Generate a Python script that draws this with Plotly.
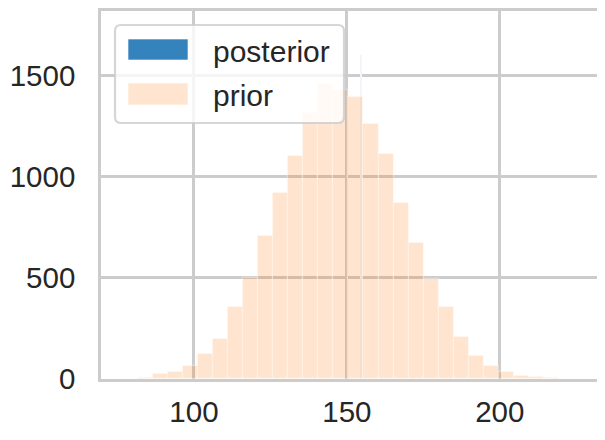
import plotly.graph_objects as go

# ---- data ----
prior_bin_start = 76.8      # left edge of first bin
prior_bin_width = 4.915     # width of each bin
prior_counts = [1, 4, 23, 36, 66, 122, 198, 357, 501, 708, 921, 1104, 1318, 1462,
                1432, 1394, 1262, 1112, 873, 671, 493, 354, 206, 115, 66, 36, 15, 8, 3, 1]

posterior_x = [154.7]
posterior_counts = [1602]
posterior_width = 0.55

x_ticks = [100, 150, 200]
y_ticks = [0, 500, 1000, 1500]
x_range = [69.6, 231.8]
y_range = [0, 1821]

prior_centers = [prior_bin_start + prior_bin_width * (i + 0.5) for i in range(len(prior_counts))]

# ---- geometry (page pixels; the page body has an 8px margin) ----
OFF = 8
W, H = 605 - OFF, 440 - OFF
L, R, T, B = 101, 597, 11, 379          # plot area in page pixels
PW, PH = R - L, B - T

def px(x):
    return (x - L) / PW

def py(y):
    return (B - y) / PH

TEXT = "#262626"
GRID = "#cccccc"
FONT = "Liberation Sans, Arial, sans-serif"

fig = go.Figure()

fig.add_trace(go.Bar(
    x=posterior_x, y=posterior_counts, width=posterior_width,
    marker=dict(color="rgb(242,246,251)", line=dict(width=0)),
    name="posterior", showlegend=False,
))
fig.add_trace(go.Bar(
    x=prior_centers, y=prior_counts, width=prior_bin_width,
    marker=dict(color="rgba(255,127,14,0.2)", line=dict(color="rgba(255,255,255,0.35)", width=1.2)),
    name="prior", showlegend=False,
))

# ---- manual legend (matplotlib style) ----
def rounded_rect(x0, y0, x1, y1, r):
    pts = []
    pts.append(f"M{px(x0 + r)},{py(y0)}")
    pts.append(f"L{px(x1 - r)},{py(y0)}")
    pts.append(f"Q{px(x1)},{py(y0)} {px(x1)},{py(y0 + r)}")
    pts.append(f"L{px(x1)},{py(y1 - r)}")
    pts.append(f"Q{px(x1)},{py(y1)} {px(x1 - r)},{py(y1)}")
    pts.append(f"L{px(x0 + r)},{py(y1)}")
    pts.append(f"Q{px(x0)},{py(y1)} {px(x0)},{py(y1 - r)}")
    pts.append(f"L{px(x0)},{py(y0 + r)}")
    pts.append(f"Q{px(x0)},{py(y0)} {px(x0 + r)},{py(y0)}")
    pts.append("Z")
    return " ".join(pts)

shapes = [
    dict(type="path", xref="paper", yref="paper",
         path=rounded_rect(115, 25, 344, 123, 6),
         fillcolor="rgba(255,255,255,0.8)", line=dict(color="rgba(204,204,204,0.8)", width=2.2),
         layer="above"),
    dict(type="rect", xref="paper", yref="paper",
         x0=px(128), x1=px(188), y0=py(60), y1=py(39),
         fillcolor="rgb(53,131,189)", line=dict(color="rgba(255,255,255,0.6)", width=1),
         layer="above"),
    dict(type="rect", xref="paper", yref="paper",
         x0=px(128), x1=px(188), y0=py(105), y1=py(83),
         fillcolor="rgb(255,229,207)", line=dict(color="rgba(255,255,255,0.6)", width=1),
         layer="above"),
]

annotations = [
    dict(text="posterior", xref="paper", yref="paper", x=px(211), y=py(51),
         xanchor="left", yanchor="middle", showarrow=False,
         font=dict(family=FONT, size=30, color=TEXT)),
    dict(text="prior", xref="paper", yref="paper", x=px(211), y=py(95.5),
         xanchor="left", yanchor="middle", showarrow=False,
         font=dict(family=FONT, size=30, color=TEXT)),
]

fig.update_layout(
    width=W, height=H,
    margin=dict(l=L - OFF, r=W - (R - OFF), t=T - OFF, b=H - (B - OFF), pad=0, autoexpand=False),
    paper_bgcolor="white", plot_bgcolor="white",
    barmode="overlay", bargap=0,
    showlegend=False,
    shapes=shapes, annotations=annotations,
    font=dict(family=FONT, color=TEXT),
)
fig.update_xaxes(
    range=x_range, tickmode="array", tickvals=x_ticks, ticktext=[str(v) for v in x_ticks],
    showgrid=True, gridcolor=GRID, gridwidth=2.5, zeroline=False,
    showline=True, linecolor=GRID, linewidth=2.5, mirror=True, automargin=False,
    ticks="outside", ticklen=5, tickcolor="rgba(0,0,0,0)",
    tickfont=dict(family=FONT, size=29.5, color=TEXT),
)
fig.update_yaxes(
    range=y_range, tickmode="array", tickvals=y_ticks, ticktext=[str(v) for v in y_ticks],
    showgrid=True, gridcolor=GRID, gridwidth=2.5, zeroline=False,
    showline=True, linecolor=GRID, linewidth=2.5, mirror=True, automargin=False,
    ticks="outside", ticklen=17, tickcolor="rgba(0,0,0,0)",
    tickfont=dict(family=FONT, size=29.5, color=TEXT),
)

fig.write_html("out.html")
